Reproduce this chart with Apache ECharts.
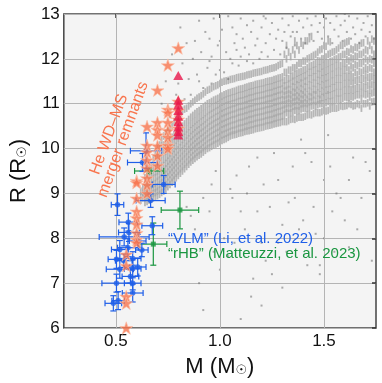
<!DOCTYPE html>
<html>
<head>
<meta charset="utf-8">
<script src="https://cdn.jsdelivr.net/npm/echarts@6/dist/echarts.min.js"></script>
<style>
  html, body { margin: 0; padding: 0; background: #fff; }
  #chart { width: 382px; height: 383px; }
</style>
</head>
<body>
<div id="chart"></div>
<script>
// x/y tick labels
const xTicks = [0.5, 1.0, 1.5];
const yTicks = [6, 7, 8, 9, 10, 11, 12, 13];

// comparison sample, dense band: [mass, [radii...]] read column by column
const bandCols = [
  [0.62, [8.85, 8.95, 9.05]],
  [0.63, [8.9, 9.0, 9.12]],
  [0.64, [8.8, 8.9, 9.0, 9.1, 9.2, 9.35]],
  [0.65, [8.82, 8.92, 9.02, 9.12, 9.25, 9.42]],
  [0.66, [8.85, 8.95, 9.05, 9.15, 9.25, 9.4, 9.55]],
  [0.67, [8.88, 8.98, 9.08, 9.18, 9.3, 9.45, 9.62]],
  [0.68, [8.9, 9.0, 9.1, 9.2, 9.32, 9.45, 9.6, 9.78]],
  [0.69, [8.92, 9.02, 9.12, 9.22, 9.35, 9.48, 9.62, 9.85]],
  [0.70, [8.95, 9.05, 9.15, 9.27, 9.38, 9.5, 9.65, 9.8, 10.0]],
  [0.71, [8.98, 9.08, 9.2, 9.3, 9.42, 9.55, 9.7, 9.85, 10.08]],
  [0.72, [9.02, 9.12, 9.24, 9.35, 9.46, 9.58, 9.72, 9.88, 10.05, 10.2]],
  [0.73, [9.05, 9.16, 9.28, 9.4, 9.5, 9.62, 9.76, 9.92, 10.08, 10.28]],
  [0.74, [9.1, 9.2, 9.32, 9.43, 9.55, 9.67, 9.8, 9.95, 10.1, 10.35]],
  [0.75, [9.15, 9.25, 9.37, 9.48, 9.6, 9.72, 9.85, 10.0, 10.15, 10.4]],
  [0.76, [9.2, 9.3, 9.42, 9.53, 9.65, 9.77, 9.9, 10.04, 10.2, 10.45]],
  [0.77, [9.25, 9.35, 9.47, 9.58, 9.7, 9.82, 9.95, 10.09, 10.25, 10.52]],
  [0.78, [9.3, 9.4, 9.52, 9.63, 9.75, 9.87, 10.0, 10.14, 10.3, 10.6]],
  [0.79, [9.35, 9.45, 9.57, 9.68, 9.8, 9.92, 10.05, 10.19, 10.35, 10.65]],
  [0.80, [9.4, 9.5, 9.62, 9.73, 9.85, 9.97, 10.1, 10.24, 10.4, 10.7]],
  [0.81, [9.45, 9.55, 9.67, 9.78, 9.9, 10.02, 10.15, 10.29, 10.45, 10.78]],
  [0.82, [9.5, 9.6, 9.72, 9.83, 9.95, 10.07, 10.2, 10.34, 10.5, 10.85]],
  [0.83, [9.55, 9.65, 9.77, 9.88, 10.0, 10.12, 10.25, 10.39, 10.55, 10.88]],
  [0.84, [9.6, 9.7, 9.82, 9.93, 10.05, 10.17, 10.3, 10.44, 10.6, 10.9]],
  [0.85, [9.65, 9.75, 9.87, 9.98, 10.1, 10.22, 10.35, 10.49, 10.65, 10.95]],
  [0.86, [9.7, 9.8, 9.92, 10.03, 10.15, 10.27, 10.4, 10.54, 10.7, 11.0]],
  [0.87, [9.74, 9.84, 9.96, 10.07, 10.19, 10.31, 10.44, 10.58, 10.74, 11.04]],
  [0.88, [9.78, 9.88, 10.0, 10.11, 10.23, 10.35, 10.48, 10.62, 10.78, 11.08]],
  [0.89, [9.82, 9.92, 10.04, 10.15, 10.27, 10.39, 10.52, 10.66, 10.82, 11.12]],
  [0.90, [9.85, 9.95, 10.07, 10.18, 10.3, 10.42, 10.55, 10.69, 10.85, 11.15]],
  [0.91, [9.88, 9.98, 10.1, 10.22, 10.34, 10.46, 10.59, 10.73, 10.89, 11.18]],
  [0.92, [9.92, 10.02, 10.14, 10.25, 10.37, 10.49, 10.62, 10.76, 10.92, 11.22]],
  [0.93, [9.96, 10.06, 10.18, 10.29, 10.41, 10.53, 10.66, 10.8, 10.96, 11.26]],
  [0.94, [10.0, 10.1, 10.22, 10.33, 10.45, 10.57, 10.7, 10.84, 11.0, 11.3]],
  [0.95, [10.02, 10.13, 10.25, 10.37, 10.49, 10.61, 10.74, 10.87, 11.02, 11.32]],
  [0.96, [10.05, 10.16, 10.28, 10.4, 10.52, 10.64, 10.77, 10.9, 11.05, 11.35]],
  [0.97, [10.08, 10.19, 10.31, 10.43, 10.55, 10.67, 10.8, 10.93, 11.08, 11.38]],
  [0.98, [10.1, 10.22, 10.34, 10.46, 10.58, 10.7, 10.83, 10.96, 11.1, 11.4]],
  [0.99, [10.12, 10.24, 10.36, 10.48, 10.6, 10.72, 10.85, 10.98, 11.12, 11.42]],
  [1.00, [10.15, 10.27, 10.39, 10.51, 10.63, 10.75, 10.88, 11.01, 11.15, 11.45]],
  [1.01, [10.18, 10.3, 10.42, 10.54, 10.66, 10.78, 10.9, 11.03, 11.17, 11.48]],
  [1.02, [10.2, 10.32, 10.44, 10.56, 10.68, 10.8, 10.93, 11.06, 11.2, 11.5]],
  [1.03, [10.22, 10.34, 10.46, 10.58, 10.7, 10.82, 10.95, 11.08, 11.22, 11.51]],
  [1.04, [10.25, 10.36, 10.48, 10.6, 10.72, 10.84, 10.97, 11.1, 11.24, 11.52]],
  [1.05, [10.28, 10.38, 10.5, 10.62, 10.74, 10.86, 10.98, 11.11, 11.25, 11.54]],
  [1.06, [10.3, 10.4, 10.52, 10.64, 10.76, 10.88, 11.0, 11.13, 11.27, 11.55]],
  [1.07, [10.31, 10.41, 10.53, 10.65, 10.77, 10.89, 11.01, 11.14, 11.28, 11.56]],
  [1.08, [10.32, 10.43, 10.55, 10.67, 10.79, 10.91, 11.03, 11.16, 11.3, 11.58]],
  [1.09, [10.34, 10.45, 10.57, 10.69, 10.81, 10.93, 11.05, 11.18, 11.32, 11.59]],
  [1.10, [10.35, 10.46, 10.58, 10.7, 10.82, 10.94, 11.06, 11.19, 11.33, 11.6]],
  [1.11, [10.36, 10.47, 10.59, 10.71, 10.83, 10.95, 11.07, 11.2, 11.34, 11.61]],
  [1.12, [10.38, 10.49, 10.61, 10.73, 10.85, 10.97, 11.09, 11.22, 11.36, 11.62]],
  [1.13, [10.39, 10.5, 10.62, 10.74, 10.86, 10.98, 11.1, 11.23, 11.37, 11.64]],
  [1.14, [10.4, 10.52, 10.64, 10.76, 10.88, 11.0, 11.12, 11.25, 11.39, 11.65]],
  [1.15, [10.41, 10.53, 10.65, 10.77, 10.89, 11.01, 11.13, 11.26, 11.4, 11.66]],
  [1.16, [10.42, 10.54, 10.66, 10.78, 10.9, 11.02, 11.14, 11.27, 11.41, 11.68]],
  [1.17, [10.44, 10.56, 10.68, 10.8, 10.92, 11.04, 11.16, 11.29, 11.43, 11.69]],
  [1.18, [10.45, 10.57, 10.69, 10.81, 10.93, 11.05, 11.17, 11.3, 11.44, 11.7]],
  [1.19, [10.46, 10.58, 10.7, 10.82, 10.94, 11.06, 11.18, 11.31, 11.45, 11.71]],
  [1.20, [10.47, 10.59, 10.71, 10.83, 10.95, 11.07, 11.19, 11.32, 11.46, 11.72]],
  [1.21, [10.48, 10.6, 10.72, 10.84, 10.96, 11.08, 11.2, 11.33, 11.47, 11.74]],
  [1.22, [10.5, 10.62, 10.74, 10.86, 10.98, 11.1, 11.22, 11.35, 11.49, 11.75]],
  [1.23, [10.51, 10.63, 10.75, 10.87, 10.99, 11.11, 11.23, 11.36, 11.5, 11.76]],
  [1.24, [10.52, 10.64, 10.76, 10.88, 11.0, 11.12, 11.24, 11.37, 11.51, 11.78]],
  [1.25, [10.53, 10.65, 10.77, 10.89, 11.01, 11.13, 11.25, 11.38, 11.52, 11.79]],
  [1.26, [10.55, 10.67, 10.79, 10.91, 11.03, 11.15, 11.27, 11.4, 11.54, 11.8]],
  [1.27, [10.56, 10.68, 10.8, 10.92, 11.04, 11.16, 11.28, 11.41, 11.55, 11.82]],
  [1.28, [10.57, 10.7, 10.82, 10.94, 11.06, 11.18, 11.3, 11.43, 11.57, 11.85]],
  [1.29, [10.58, 10.71, 10.83, 10.95, 11.07, 11.19, 11.31, 11.44, 11.58, 11.88]],
  [1.30, [10.6, 10.72, 10.85, 10.97, 11.09, 11.21, 11.33, 11.46, 11.6, 11.9]],
  [1.31, [10.6, 10.76, 10.88, 10.98, 11.08, 11.18, 11.28, 11.4, 11.52, 11.7, 12.1]],
  [1.32, [10.6, 10.8, 10.9, 11.0, 11.1, 11.2, 11.3, 11.4, 11.55, 11.7, 12.0, 12.3]],
  [1.33, [10.62, 10.78, 10.9, 11.02, 11.12, 11.22, 11.32, 11.44, 11.56, 11.75, 12.15]],
  [1.34, [10.65, 10.8, 10.9, 11.0, 11.1, 11.2, 11.3, 11.45, 11.6, 11.75, 12.05]],
  [1.35, [10.66, 10.82, 10.94, 11.04, 11.14, 11.26, 11.38, 11.5, 11.62, 11.8, 12.2]],
  [1.36, [10.65, 10.85, 10.95, 11.05, 11.15, 11.25, 11.35, 11.5, 11.65, 11.8, 12.1, 12.4]],
  [1.37, [10.68, 10.84, 10.96, 11.08, 11.18, 11.3, 11.42, 11.54, 11.68, 11.85, 12.3]],
  [1.38, [10.7, 10.85, 10.95, 11.05, 11.15, 11.25, 11.4, 11.55, 11.7, 11.9, 12.2]],
  [1.39, [10.7, 10.88, 11.0, 11.1, 11.22, 11.34, 11.46, 11.58, 11.72, 11.9, 12.35]],
  [1.40, [10.7, 10.9, 11.0, 11.1, 11.2, 11.3, 11.45, 11.6, 11.75, 11.95, 12.3]],
  [1.41, [10.72, 10.9, 11.02, 11.14, 11.26, 11.38, 11.5, 11.62, 11.76, 11.95, 12.4]],
  [1.42, [10.75, 10.9, 11.0, 11.1, 11.2, 11.35, 11.5, 11.65, 11.8, 12.0, 12.4]],
  [1.43, [10.76, 10.92, 11.04, 11.16, 11.28, 11.42, 11.56, 11.7, 11.84, 12.02, 12.45]],
  [1.44, [10.75, 10.95, 11.05, 11.15, 11.25, 11.4, 11.55, 11.7, 11.85, 12.05, 12.5]],
  [1.45, [10.78, 10.96, 11.08, 11.2, 11.32, 11.46, 11.6, 11.74, 11.88, 12.08]],
  [1.46, [10.8, 10.95, 11.05, 11.2, 11.3, 11.45, 11.6, 11.75, 11.9, 12.1]],
  [1.47, [10.8, 10.98, 11.1, 11.24, 11.38, 11.52, 11.66, 11.8, 11.96, 12.15]],
  [1.48, [10.8, 11.0, 11.1, 11.2, 11.35, 11.5, 11.65, 11.8, 11.95, 12.2]],
  [1.49, [10.82, 11.0, 11.14, 11.28, 11.42, 11.56, 11.7, 11.84, 12.0, 12.22]],
  [1.50, [10.85, 11.0, 11.15, 11.25, 11.4, 11.55, 11.7, 11.85, 12.0, 12.3]],
  [1.51, [10.84, 11.02, 11.16, 11.3, 11.44, 11.58, 11.72, 11.88, 12.04, 12.28]],
  [1.52, [10.85, 11.05, 11.2, 11.3, 11.45, 11.6, 11.75, 11.9, 12.1, 12.4]],
  [1.53, [10.88, 11.04, 11.18, 11.32, 11.46, 11.62, 11.78, 11.94, 12.12, 12.38]],
  [1.54, [10.9, 11.05, 11.2, 11.35, 11.5, 11.65, 11.8, 11.95, 12.15]],
  [1.55, [10.9, 11.06, 11.22, 11.36, 11.5, 11.66, 11.82, 11.98, 12.16]],
  [1.56, [10.9, 11.1, 11.25, 11.4, 11.55, 11.7, 11.85, 12.0, 12.2]],
  [1.57, [10.92, 11.1, 11.24, 11.4, 11.56, 11.72, 11.88, 12.04, 12.24]],
  [1.58, [10.95, 11.1, 11.25, 11.4, 11.55, 11.7, 11.85, 12.05, 12.3]],
  [1.59, [10.94, 11.12, 11.28, 11.44, 11.6, 11.76, 11.92, 12.1, 12.3]],
  [1.60, [10.95, 11.15, 11.3, 11.45, 11.6, 11.75, 11.9, 12.1, 12.35]],
  [1.61, [10.96, 11.14, 11.3, 11.46, 11.62, 11.8, 11.98, 12.16, 12.38]],
  [1.62, [11.0, 11.15, 11.3, 11.45, 11.6, 11.75, 11.95, 12.15, 12.4]],
  [1.63, [10.98, 11.16, 11.32, 11.5, 11.66, 11.84, 12.02, 12.22]],
  [1.64, [10.95, 11.15, 11.3, 11.45, 11.6, 11.8, 12.0, 12.2]],
  [1.65, [10.96, 11.18, 11.34, 11.52, 11.7, 11.88, 12.06, 12.26]],
  [1.66, [11.0, 11.2, 11.35, 11.5, 11.65, 11.85, 12.05, 12.25]],
  [1.67, [10.98, 11.2, 11.36, 11.54, 11.72, 11.9, 12.1, 12.3]],
  [1.68, [10.9, 11.1, 11.25, 11.4, 11.55, 11.7, 11.9, 12.1, 12.35]],
  [1.69, [11.0, 11.22, 11.38, 11.56, 11.74, 11.94, 12.14, 12.36]],
  [1.70, [11.0, 11.2, 11.35, 11.5, 11.65, 11.8, 12.0, 12.2]],
  [1.71, [11.02, 11.22, 11.4, 11.58, 11.76, 11.96, 12.18, 12.4]],
  [1.72, [10.95, 11.15, 11.3, 11.45, 11.6, 11.8, 12.0, 12.3]],
  [1.73, [11.04, 11.24, 11.42, 11.6, 11.78, 11.98, 12.2, 12.44]],
  [1.74, [11.05, 11.25, 11.4, 11.55, 11.7, 11.9, 12.1, 12.4]]
];

// loose grey points above the band
const looseAbove = [
  [0.72, 11.0], [0.74, 11.5], [0.76, 10.7], [0.77, 12.1], [0.79, 11.2], [0.8, 11.45],
  [0.81, 12.7], [0.82, 11.9], [0.83, 11.1], [0.84, 12.35], [0.85, 11.55], [0.86, 11.2],
  [0.87, 12.0], [0.88, 12.4], [0.89, 11.65], [0.9, 11.5], [0.9, 12.85], [0.91, 12.15],
  [0.92, 11.35], [0.93, 12.6], [0.94, 11.8], [0.95, 12.45], [0.96, 12.05], [0.96, 11.45],
  [0.97, 12.9], [0.98, 11.65], [0.99, 12.3], [1.0, 12.4], [1.0, 11.75], [1.01, 12.65],
  [1.02, 11.7], [1.03, 12.15], [1.04, 12.95], [1.04, 11.55], [1.05, 12.0], [1.06, 12.7],
  [1.06, 11.9], [1.07, 12.35], [1.08, 12.55], [1.09, 11.85], [1.1, 12.05], [1.1, 12.9],
  [1.11, 12.45], [1.12, 12.25], [1.13, 11.95], [1.13, 12.75], [1.14, 12.1], [1.15, 12.6],
  [1.16, 11.9], [1.16, 12.85], [1.17, 12.3], [1.18, 12.45], [1.19, 12.0], [1.2, 12.7],
  [1.2, 12.15], [1.21, 12.95], [1.22, 12.35], [1.23, 12.05], [1.24, 12.55], [1.25, 12.8],
  [1.26, 12.2], [1.27, 12.45], [1.28, 12.65], [1.29, 12.1], [1.3, 12.9], [1.3, 12.4],
  [1.31, 12.6], [1.32, 12.25], [1.33, 12.75], [1.34, 12.5], [1.35, 12.95], [1.36, 12.3],
  [1.37, 12.6], [1.38, 12.85], [1.39, 12.45], [1.4, 12.7], [1.41, 12.35], [1.42, 12.9],
  [1.43, 12.55], [1.44, 12.75], [1.45, 12.4], [1.46, 12.95], [1.47, 12.6], [1.48, 12.8],
  [1.49, 12.45], [1.5, 12.7], [1.51, 12.9], [1.52, 12.5], [1.53, 12.8], [1.54, 12.35],
  [1.55, 12.65], [1.56, 12.95], [1.57, 12.5], [1.58, 12.75], [1.59, 12.4], [1.6, 12.85],
  [1.61, 12.6], [1.62, 12.95], [1.63, 12.45], [1.64, 12.7], [1.65, 12.55], [1.66, 12.9],
  [1.67, 12.35], [1.68, 12.65], [1.69, 12.8], [1.7, 12.5], [1.71, 12.95], [1.72, 12.6],
  [1.73, 12.75], [1.74, 12.45], [1.6, 13.0], [1.35, 12.6], [1.22, 12.9], [1.08, 12.2],
  [0.95, 11.95]
];

// loose grey points below the band
const looseBelow = [
  [0.84, 8.7], [0.86, 8.5], [0.88, 8.2], [0.9, 7.0], [0.92, 8.9], [0.95, 8.6],
  [0.96, 9.2], [0.97, 7.7], [0.98, 9.5], [1.0, 7.3], [1.02, 8.0], [1.04, 7.6],
  [1.05, 9.1], [1.06, 8.9], [1.07, 7.9], [1.08, 9.4], [1.1, 6.2], [1.1, 8.6],
  [1.12, 8.2], [1.13, 9.0], [1.14, 9.6], [1.15, 6.7], [1.16, 7.1], [1.18, 8.6],
  [1.18, 9.8], [1.2, 6.5], [1.2, 7.9], [1.21, 9.2], [1.22, 7.5], [1.24, 8.7],
  [1.25, 7.2], [1.26, 9.9], [1.28, 7.9], [1.28, 9.3], [1.3, 6.9], [1.3, 8.3],
  [1.32, 7.7], [1.33, 8.8], [1.35, 9.6], [1.36, 8.9], [1.38, 8.2], [1.39, 10.2],
  [1.4, 8.4], [1.41, 9.9], [1.42, 7.4], [1.44, 9.7], [1.45, 8.7], [1.46, 8.1],
  [1.48, 7.2], [1.48, 7.4], [1.5, 8.0], [1.5, 9.3], [1.52, 10.3], [1.53, 9.6],
  [1.54, 8.6], [1.55, 7.7], [1.56, 9.0], [1.58, 8.9], [1.6, 8.4], [1.62, 7.8],
  [1.62, 9.3], [1.64, 9.8], [1.66, 8.2], [1.68, 8.9], [1.7, 9.7], [1.72, 9.5],
  [1.73, 7.5], [0.92, 6.4]
];

// "VLM" (Li et al. 2022): [M, R, dM, dR]
const vlmData = [
  [0.645, 9.95, 0.075, 0.4], [0.628, 9.69, 0.072, 0.2], [0.73, 9.20, 0.055, 0.2],
  [0.667, 8.84, 0.07, 0.15], [0.508, 8.75, 0.03, 0.24], [0.56, 8.36, 0.045, 0.2],
  [0.675, 8.28, 0.05, 0.2], [0.563, 8.13, 0.05, 0.2], [0.54, 8.03, 0.12, 0.2],
  [0.558, 7.79, 0.05, 0.2], [0.605, 7.94, 0.04, 0.15], [0.625, 7.74, 0.03, 0.15],
  [0.519, 7.75, 0.04, 0.2], [0.503, 7.53, 0.04, 0.2], [0.538, 7.50, 0.04, 0.15],
  [0.581, 7.55, 0.04, 0.15], [0.519, 7.31, 0.065, 0.2], [0.581, 7.32, 0.04, 0.2],
  [0.605, 7.36, 0.04, 0.2], [0.503, 7.00, 0.07, 0.2], [0.581, 7.00, 0.04, 0.15],
  [0.57, 7.15, 0.04, 0.15], [0.581, 6.78, 0.05, 0.2], [0.488, 6.55, 0.04, 0.17],
  [0.511, 6.61, 0.03, 0.2]
];

// "rHB" (Matteuzzi et al. 2023): [M, R, dM, dR]
const rhbData = [
  [0.808, 8.63, 0.09, 0.42], [0.68, 7.87, 0.065, 0.47], [0.66, 9.5, 0.07, 0.06]
];

// He WD-MS merger remnants (stars)
const mergerData = [
  [0.8, 12.24], [0.75, 11.86], [0.70, 11.30], [0.75, 10.87], [0.75, 10.80],
  [0.8, 11.05], [0.8, 10.85], [0.8, 10.65], [0.8, 10.45],
  [0.65, 10.49], [0.70, 10.58], [0.70, 10.42], [0.70, 10.30], [0.70, 10.06],
  [0.70, 9.84], [0.70, 9.62], [0.75, 10.58], [0.75, 10.40], [0.75, 10.25],
  [0.75, 10.07], [0.75, 10.0], [0.65, 10.07], [0.65, 9.92], [0.65, 9.74],
  [0.65, 9.56], [0.65, 9.34], [0.65, 9.19], [0.65, 9.00], [0.60, 9.28],
  [0.60, 9.24], [0.60, 8.89], [0.60, 8.60], [0.60, 8.45], [0.60, 8.31],
  [0.60, 8.12], [0.60, 7.97], [0.60, 7.90], [0.55, 7.64], [0.55, 7.39],
  [0.55, 6.70], [0.55, 6.55], [0.55, 6.0]
];

// triangles at 0.8 Msun
const triData = [
  [0.8, 11.63], [0.8, 11.08], [0.8, 10.97], [0.8, 10.85], [0.8, 10.72],
  [0.8, 10.60], [0.8, 10.48], [0.8, 10.38], [0.8, 10.30]
];

const bandData = [];
bandCols.forEach(function (c) {
  c[1].forEach(function (r) { bandData.push([c[0], r]); });
});

const FONT = "'Liberation Sans', Arial, sans-serif";
const STAR = 'path://M50,0 L61.8,35.1 L98.8,35.1 L68.9,56.9 L80.3,91.9 L50,70.3 L19.7,91.9 L31.1,56.9 L1.2,35.1 L38.2,35.1 Z';

function errorBars(color) {
  return function (params, api) {
    const x = api.value(0), y = api.value(1), dx = api.value(2), dy = api.value(3);
    const l = api.coord([x - dx, y]), r = api.coord([x + dx, y]);
    const t = api.coord([x, y + dy]), b = api.coord([x, y - dy]);
    const cap = 3;
    const st = { stroke: color, lineWidth: 1.2 };
    return {
      type: 'group',
      children: [
        { type: 'line', shape: { x1: l[0], y1: l[1], x2: r[0], y2: r[1] }, style: st },
        { type: 'line', shape: { x1: t[0], y1: t[1], x2: b[0], y2: b[1] }, style: st },
        { type: 'line', shape: { x1: l[0], y1: l[1] - cap, x2: l[0], y2: l[1] + cap }, style: st },
        { type: 'line', shape: { x1: r[0], y1: r[1] - cap, x2: r[0], y2: r[1] + cap }, style: st },
        { type: 'line', shape: { x1: t[0] - cap, y1: t[1], x2: t[0] + cap, y2: t[1] }, style: st },
        { type: 'line', shape: { x1: b[0] - cap, y1: b[1], x2: b[0] + cap, y2: b[1] }, style: st }
      ]
    };
  };
}

const chart = echarts.init(document.getElementById('chart'));
const subRich = { sub: { fontSize: 13, fontFamily: 'DejaVu Sans', padding: [8, 0, 0, 0], color: '#111' } };

chart.setOption({
  animation: false,
  grid: {
    left: 56, right: 6, top: 14, bottom: 52,
    show: true, backgroundColor: '#f4f4f4', borderColor: '#444', borderWidth: 1.5
  },
  xAxis: [{
    type: 'value', min: 0.25, max: 1.75, interval: 0.25,
    name: 'M (M{sub|☉})', nameLocation: 'middle', nameGap: 28,
    nameTextStyle: { fontSize: 22, fontFamily: FONT, color: '#111', rich: subRich },
    axisLine: { show: false },
    axisTick: { show: false },
    axisLabel: {
      fontSize: 17, fontFamily: FONT, color: '#111', margin: 5,
      formatter: function (v) { return xTicks.indexOf(v) >= 0 ? v.toFixed(1) : ''; }
    },
    splitLine: { show: false }
  }, {
    type: 'value', min: 0.25, max: 1.75, position: 'top',
    axisLine: { show: false },
    axisLabel: { show: false },
    axisTick: { show: true, inside: true, length: 4, customValues: xTicks, lineStyle: { color: '#333', width: 1.5 } },
    splitLine: { show: false }
  }],
  yAxis: [{
    type: 'value', min: 6, max: 13, interval: 1,
    name: 'R (R{sub|☉})', nameLocation: 'middle', nameGap: 30,
    nameTextStyle: { fontSize: 22, fontFamily: FONT, color: '#111', rich: subRich },
    axisLine: { show: false },
    axisTick: { show: false },
    axisLabel: { fontSize: 17, fontFamily: FONT, color: '#111', margin: 4 },
    splitLine: { show: true, lineStyle: { color: '#b4b4b4', width: 1 } }
  }, {
    type: 'value', min: 6, max: 13, interval: 1, position: 'right',
    axisLine: { show: false },
    axisLabel: { show: false },
    axisTick: { show: true, inside: true, length: 4, lineStyle: { color: '#333', width: 1.5 } },
    splitLine: { show: false }
  }],
  series: [{
    type: 'scatter', name: 'band', data: bandData, symbol: 'rect', symbolSize: [1.8, 7.5],
    itemStyle: { color: '#a6a6a6' },
    markLine: {
      silent: true, symbol: 'none', label: { show: false },
      lineStyle: { color: '#b4b4b4', width: 1, type: 'solid' },
      data: xTicks.map(function (v) { return { xAxis: v }; })
    },
    z: 1
  }, {
    type: 'scatter', name: 'above', data: looseAbove, symbol: 'rect', symbolSize: 2,
    itemStyle: { color: 'rgba(110,110,110,0.7)' }, z: 1
  }, {
    type: 'scatter', name: 'below', data: looseBelow, symbol: 'rect', symbolSize: 2,
    itemStyle: { color: 'rgba(110,110,110,0.7)' }, z: 1
  }, {
    type: 'custom', name: 'rHB err', data: rhbData, renderItem: errorBars('#1a9640'),
    encode: { x: 0, y: 1 }, z: 3
  }, {
    type: 'scatter', name: 'rHB', data: rhbData, symbol: 'rect', symbolSize: 5,
    itemStyle: { color: '#1a9640' }, z: 4
  }, {
    type: 'custom', name: 'VLM err', data: vlmData, renderItem: errorBars('#1f5fe8'),
    encode: { x: 0, y: 1 }, z: 5
  }, {
    type: 'scatter', name: 'VLM', data: vlmData, symbolSize: 5.5,
    itemStyle: { color: '#1f5fe8' }, z: 6
  }, {
    type: 'scatter', name: 'merger', data: mergerData, symbol: STAR, symbolSize: [13, 12.5],
    itemStyle: { color: '#f8744d', borderColor: '#fcc0a8', borderWidth: 0.8 }, z: 7
  }, {
    type: 'scatter', name: 'tri', data: triData, symbol: 'triangle', symbolSize: [10, 9],
    itemStyle: { color: '#e8174b' }, z: 8
  }],
  graphic: [{
    type: 'text', x: 116, y: 137, rotation: 70 * Math.PI / 180,
    style: {
      text: 'He WD–MS\nmerger remnants', fill: '#f8744d', fontSize: 16, fontFamily: FONT,
      align: 'center', verticalAlign: 'middle', lineHeight: 15
    }, z: 20
  }, {
    type: 'text', x: 168, y: 239,
    style: { text: '“VLM” (Li, et al. 2022)', fill: '#1f5fe8', fontSize: 15, fontFamily: FONT, verticalAlign: 'middle' },
    z: 20
  }, {
    type: 'text', x: 168, y: 254,
    style: { text: '“rHB” (Matteuzzi, et al. 2023)', fill: '#1a9640', fontSize: 15, fontFamily: FONT, verticalAlign: 'middle' },
    z: 20
  }]
});
</script>
</body>
</html>
